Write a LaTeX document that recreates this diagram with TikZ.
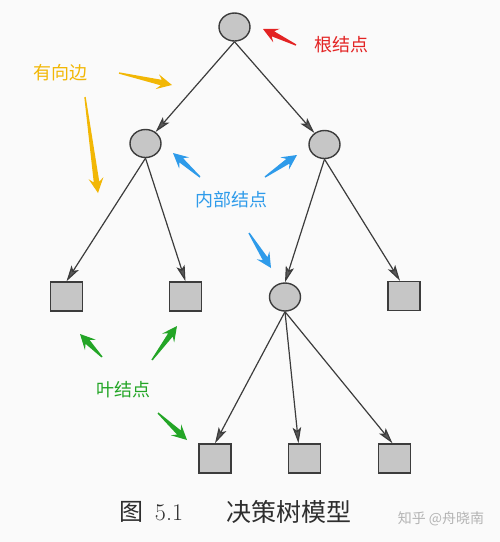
\documentclass[tikz,border=0pt]{standalone}
\usepackage{fontspec}
\newfontfamily\cjk{Noto Sans CJK SC}
\usetikzlibrary{shapes.geometric,arrows.meta,calc}
\definecolor{bgc}{HTML}{FAFAFA}
\definecolor{nodefill}{HTML}{C6C6C6}
\definecolor{edgec}{HTML}{3C3C3C}
\definecolor{redc}{HTML}{E32323}
\definecolor{goldc}{HTML}{F2B705}
\definecolor{bluec}{HTML}{2E9BEA}
\definecolor{greenc}{HTML}{23A526}
\definecolor{capc}{HTML}{2E2E2E}
\definecolor{wmc}{HTML}{B4B4B4}
\newcommand\taparrow[3]{%
  \path (#3) coordinate (tipP) ($(#3)!15pt!(#2)$) coordinate (hb) ($(#3)!11pt!(#2)$) coordinate (hn);
  \fill[#1] ($(#2)!0.7pt!90:(tipP)$) -- ($(hn)!2.8pt!90:(tipP)$) -- ($(hb)!7.5pt!90:(tipP)$) -- (tipP)
    -- ($(hb)!7.5pt!-90:(tipP)$) -- ($(hn)!2.8pt!-90:(tipP)$) -- ($(#2)!0.7pt!-90:(tipP)$) -- cycle;
}
\begin{document}
\begin{tikzpicture}[x=1pt,y=-1pt,
  inner/.style={ellipse,draw=edgec,fill=nodefill,line width=1.4pt,minimum width=31pt,minimum height=28pt,inner sep=0pt},
  leaf/.style={rectangle,draw=edgec,fill=nodefill,line width=1.4pt,minimum width=32pt,minimum height=29pt,inner sep=0pt},
  edge/.style={draw=edgec,line width=1.2pt,-{Stealth[length=16pt,width=8.5pt,inset=3.5pt,fill=edgec!85]}},
  lab/.style={font=\cjk\fontsize{18}{18}\selectfont,inner sep=0pt}]
\useasboundingbox[fill=bgc] (0,0) rectangle (500,542);
% nodes
\node[inner] (root) at (234.5,27) {};
\node[inner] (L) at (145.5,143.5) {};
\node[inner] (R) at (324.5,144.5) {};
\node[inner] (M) at (285,297) {};
\node[leaf] (l1) at (66.5,296.5) {};
\node[leaf] (l2) at (185.5,296.5) {};
\node[leaf] (l3) at (404,296) {};
\node[leaf] (b1) at (215,458.5) {};
\node[leaf] (b2) at (304.5,458.5) {};
\node[leaf] (b3) at (394.5,458.5) {};
% edges
\draw[edge] (root.south) -- (L);
\draw[edge] (root.south) -- (R);
\draw[edge] (L.south) -- (l1.north);
\draw[edge] (L.south) -- (l2.north);
\draw[edge] (R.south) -- (M.north);
\draw[edge] (R.south) -- ([xshift=-4pt]l3.north);
\draw[edge] (M.south) -- (b1.north);
\draw[edge] (M.south) -- ([xshift=-6pt]b2.north);
\draw[edge] (M.south) -- ([xshift=-2pt]b3.north);
% labels
\node[lab,text=redc] (tRoot) at (341,45) {根结点};
\node[lab,text=goldc] (tEdge) at (61,73) {有向边};
\node[lab,text=bluec] (tInner) at (231,200) {内部结点};
\node[lab,text=greenc] (tLeaf) at (123,390) {叶结点};
% annotation arrows
\coordinate (r0) at (296,45); \coordinate (r1) at (263,29);
\coordinate (g0) at (119,73); \coordinate (g1) at (172,85);
\coordinate (g2) at (85,97); \coordinate (g3) at (98,193);
\coordinate (u0) at (200,177); \coordinate (u1) at (173,153);
\coordinate (u2) at (265,177); \coordinate (u3) at (297,155);
\coordinate (u4) at (249,233); \coordinate (u5) at (271,268);
\coordinate (e0) at (102,357); \coordinate (e1) at (80,334);
\coordinate (e2) at (152,360); \coordinate (e3) at (177,326);
\coordinate (e4) at (158,413); \coordinate (e5) at (187,440);
\taparrow{redc}{r0}{r1}
\taparrow{goldc}{g0}{g1}
\taparrow{goldc}{g2}{g3}
\taparrow{bluec}{u0}{u1}
\taparrow{bluec}{u2}{u3}
\taparrow{bluec}{u4}{u5}
\taparrow{greenc}{e0}{e1}
\taparrow{greenc}{e2}{e3}
\taparrow{greenc}{e4}{e5}
% caption
\node[text=capc,inner sep=0pt,font=\cjk\fontsize{24}{24}\selectfont] (cap1) at (131.5,512) {图};
\node[text=capc,inner sep=0pt,font=\fontsize{24}{24}\selectfont] (cap2) at (169,513) {5.1};
\node[text=capc,inner sep=0pt,font=\cjk\fontsize{25}{25}\selectfont] (cap3) at (288.5,512) {决策树模型};
\node[text=wmc,inner sep=0pt,font=\cjk\fontsize{14}{14}\selectfont] (wm) at (441,519) {知乎 @舟晓南};
\end{tikzpicture}
\end{document}
